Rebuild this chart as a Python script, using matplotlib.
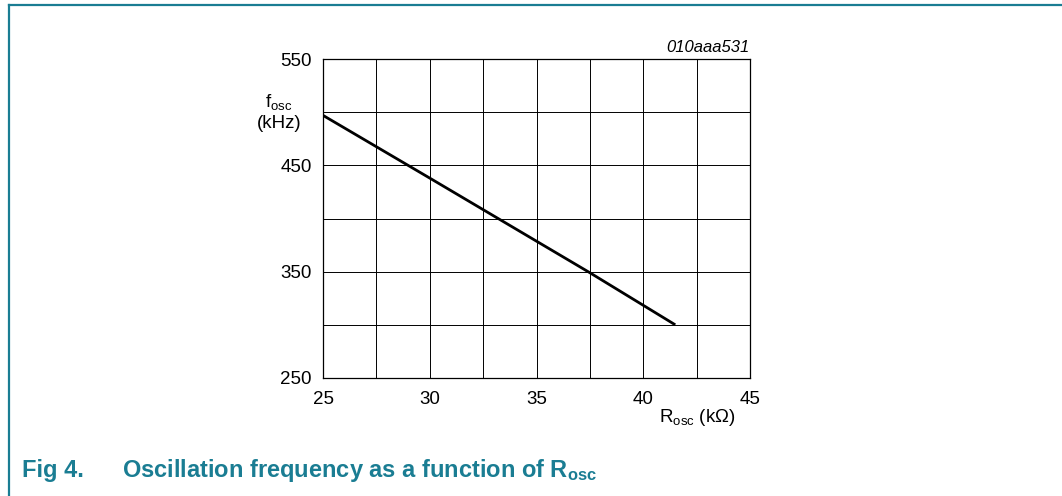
import matplotlib
matplotlib.use("Agg")
import matplotlib.pyplot as plt
from matplotlib.lines import Line2D

plt.rcParams['font.family'] = ['Liberation Sans', 'DejaVu Sans']
plt.rcParams['mathtext.fontset'] = 'custom'
plt.rcParams['mathtext.rm'] = 'Liberation Sans'
plt.rcParams['mathtext.it'] = 'Liberation Sans:italic'
plt.rcParams['mathtext.bf'] = 'Liberation Sans:bold'

# Data
r_osc = [25.0, 30.0, 37.5, 41.5]          # kOhm
f_osc = [497.0, 438.0, 349.0, 300.0]      # kHz
x_ticks = [25, 30, 35, 40, 45]
x_minor = [27.5, 32.5, 37.5, 42.5]
y_ticks = [250, 350, 450, 550]
y_minor = [300, 400, 500]

teal = '#1a7d93'

fig = plt.figure(figsize=(10.62, 4.96), dpi=100)

# border lines
fig.add_artist(Line2D([9/1062, 1.0], [1 - 5/496, 1 - 5/496], color=teal, lw=1.6,
                      transform=fig.transFigure))
fig.add_artist(Line2D([9/1062, 9/1062], [0, 1 - 5/496], color=teal, lw=1.6,
                      transform=fig.transFigure))

ax = fig.add_axes([323/1062, 1 - 378/496, 427/1062, 319/496])
ax.plot(r_osc, f_osc, color='black', lw=2.0, solid_capstyle='butt')
ax.set_xlim(25, 45)
ax.set_ylim(250, 550)
ax.set_xticks(x_ticks)
ax.set_xticks(x_minor, minor=True)
ax.set_yticks(y_ticks)
ax.set_yticks(y_minor, minor=True)
ax.grid(True, which='both', color='black', lw=0.7)
ax.set_axisbelow(True)
ax.tick_params(which='both', length=0)
ax.tick_params(axis='x', pad=9, labelsize=13.5)
ax.tick_params(axis='y', pad=8, labelsize=13.5)
for s in ax.spines.values():
    s.set_linewidth(0.9)

ax.text(1.0, 1.012, '010aaa531', transform=ax.transAxes, ha='right', va='bottom',
        fontsize=12, style='italic')

fig.text(279/1062, 1 - 102/496, r'f$_{\mathrm{osc}}$', ha='center', va='center', fontsize=13.5)
fig.text(279/1062, 1 - 123/496, '(kHz)', ha='center', va='center', fontsize=13.5)
fig.text(736/1062, 1 - 418/496, r'R$_{\mathrm{osc}}$ (k$\mathrm{\Omega}$)', ha='right', va='center',
         fontsize=13.5)

fig.text(22/1062, 1 - 470/496, 'Fig 4.', ha='left', va='center', fontsize=17,
         fontweight='bold', color=teal)
fig.text(122/1062, 1 - 470/496, r'Oscillation frequency as a function of R$_{\mathbf{osc}}$',
         ha='left', va='center', fontsize=17, fontweight='bold', color=teal)

fig.savefig('out.png', dpi=100)
